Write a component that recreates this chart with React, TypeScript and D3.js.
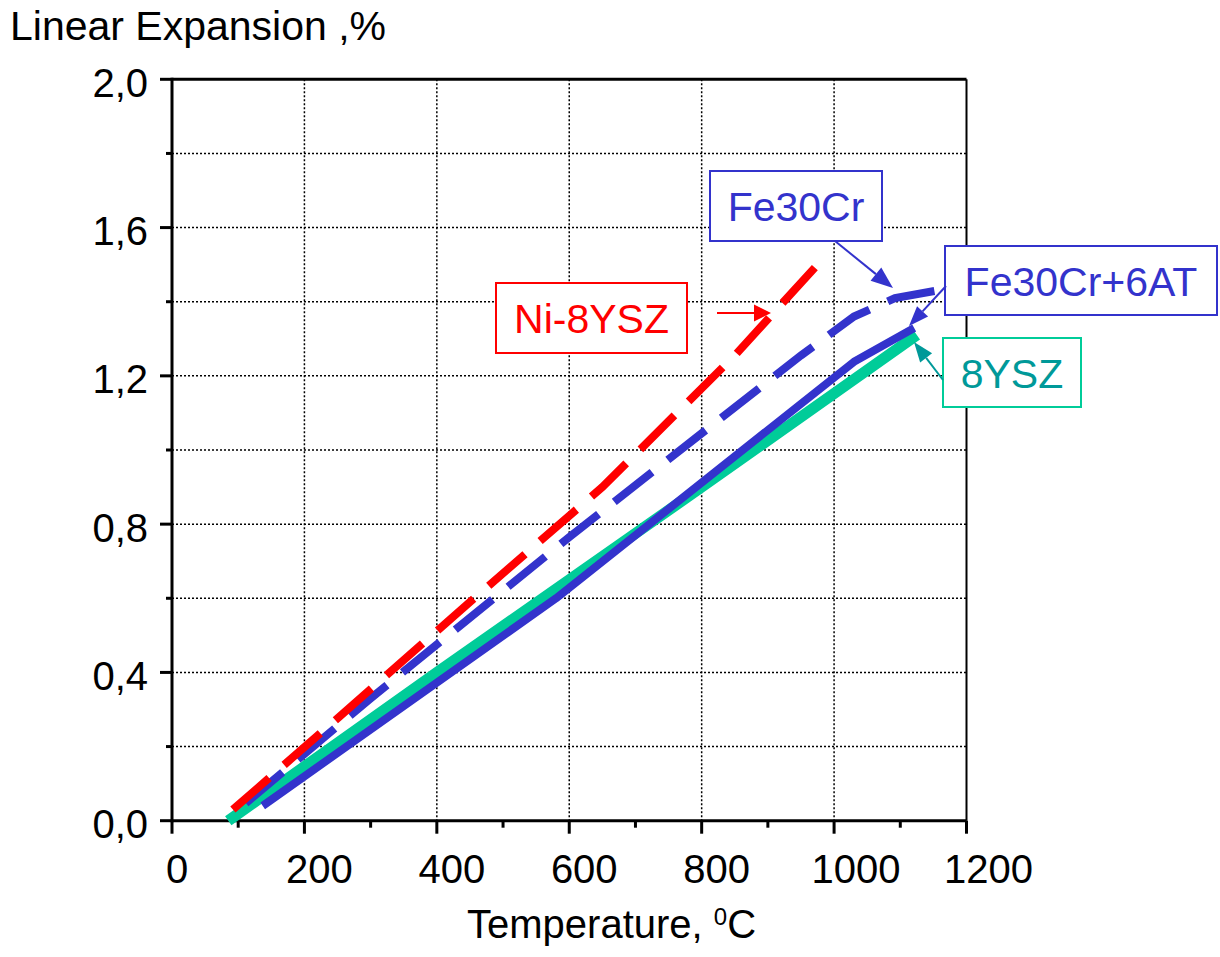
import React from "react";
import * as d3 from "d3";

// Temperature (°C) vs linear expansion (%)
const ysz8: [number, number][] = [[85, 0.0], [400, 0.40], [800, 0.90], [1125, 1.31]];
const fe30cr6at: [number, number][] = [[137, 0.04], [580, 0.60], [1030, 1.238], [1121, 1.329]];
const fe30cr: [number, number][] = [[100, 0.03], [300, 0.33], [600, 0.765], [850, 1.115], [950, 1.255], [1030, 1.36], [1092, 1.41], [1155, 1.43]];
const ni8ysz: [number, number][] = [[92, 0.03], [230, 0.245], [450, 0.59], [650, 0.90], [850, 1.255], [977, 1.504]];

const xMajorTicks = [0, 200, 400, 600, 800, 1000, 1200];
const xMinorTicks = [100, 300, 500, 700, 900, 1100];
const yMajorTicks = [0, 0.4, 0.8, 1.2, 1.6, 2.0];
const yMinorTicks = [0.2, 0.6, 1.0, 1.4, 1.8];
const xGrid = [200, 400, 600, 800, 1000];
const yGrid = [0.2, 0.4, 0.6, 0.8, 1.0, 1.2, 1.4, 1.6, 1.8];

const FONT = "'Liberation Sans', Arial, sans-serif";
const BLUE = "#3333CC";
const RED = "#FF0000";
const GREEN = "#00CC99";
const TEAL = "#009999";

const x = d3.scaleLinear().domain([0, 1200]).range([172, 966.5]);
const y = d3.scaleLinear().domain([0, 2]).range([820.7, 79.3]);
const line = d3.line<[number, number]>().x(d => x(d[0])).y(d => y(d[1]));

function Arrow({ x1, y1, x2, y2, color, len = 20, w = 16, sw = 2 }: any) {
  const ang = Math.atan2(y2 - y1, x2 - x1);
  const bx = x2 - len * Math.cos(ang);
  const by = y2 - len * Math.sin(ang);
  const px = -Math.sin(ang) * w / 2;
  const py = Math.cos(ang) * w / 2;
  return (
    <g>
      <line x1={x1} y1={y1} x2={bx} y2={by} stroke={color} strokeWidth={sw} />
      <polygon points={`${x2},${y2} ${bx + px},${by + py} ${bx - px},${by - py}`} fill={color} />
    </g>
  );
}

function Label({ x0, y0, w, h, text, color, border }: any) {
  return (
    <g>
      <rect x={x0} y={y0} width={w} height={h} fill="white" stroke={border} strokeWidth={2} />
      <text x={x0 + w / 2} y={y0 + h / 2 + 15} textAnchor="middle" fontSize={41} fontFamily={FONT} fill={color}>{text}</text>
    </g>
  );
}

// label shift to the right of the tick, depending on label length
const xLabelShift = (s: string) => (s.length === 1 ? 5 : s.length === 3 ? 15 : 22);

export default function App() {
  return (
    <svg width={1220} height={957} style={{ position: "absolute", left: 0, top: 0, background: "white" }}>
      <rect x={0} y={0} width={1220} height={957} fill="white" />
      {/* grid */}
      {xGrid.map(v => (
        <line key={"gx" + v} x1={x(v)} x2={x(v)} y1={y(2)} y2={y(0)} stroke="black" strokeWidth={1.5} strokeDasharray="2,2" />
      ))}
      {yGrid.map(v => (
        <line key={"gy" + v} x1={x(0)} x2={x(1200)} y1={y(v)} y2={y(v)} stroke="black" strokeWidth={1.5} strokeDasharray="2,2" />
      ))}
      {/* frame */}
      <line x1={x(0)} x2={x(1200)} y1={y(2)} y2={y(2)} stroke="black" strokeWidth={3} />
      <line x1={x(1200)} x2={x(1200)} y1={y(2)} y2={y(0)} stroke="black" strokeWidth={2} />
      <line x1={x(0)} x2={x(1200)} y1={y(0)} y2={y(0)} stroke="black" strokeWidth={3} />
      <line x1={x(0)} x2={x(0)} y1={y(2) - 1.5} y2={y(0) + 1.5} stroke="black" strokeWidth={3} />
      {/* ticks */}
      {xMajorTicks.map(v => (
        <line key={"xt" + v} x1={x(v)} x2={x(v)} y1={y(0)} y2={y(0) + 13} stroke="black" strokeWidth={3} />
      ))}
      {xMinorTicks.map(v => (
        <line key={"xm" + v} x1={x(v)} x2={x(v)} y1={y(0)} y2={y(0) + 7} stroke="black" strokeWidth={3} />
      ))}
      {yMajorTicks.map(v => (
        <line key={"yt" + v} x1={x(0) - 12} x2={x(0)} y1={y(v)} y2={y(v)} stroke="black" strokeWidth={3} />
      ))}
      {yMinorTicks.map(v => (
        <line key={"ym" + v} x1={x(0) - 6} x2={x(0)} y1={y(v)} y2={y(v)} stroke="black" strokeWidth={3} />
      ))}
      {/* tick labels */}
      {xMajorTicks.map(v => (
        <text key={"xl" + v} x={x(v) + xLabelShift(String(v))} y={883} textAnchor="middle" fontSize={40} fontFamily={FONT}>{v}</text>
      ))}
      {yMajorTicks.map(v => (
        <text key={"yl" + v} x={148} y={y(v) + 17.5} textAnchor="end" fontSize={40} fontFamily={FONT}>{v.toFixed(1).replace(".", ",")}</text>
      ))}
      {/* series */}
      <path d={line(ysz8) || ""} fill="none" stroke={GREEN} strokeWidth={11} />
      <path d={line(fe30cr6at) || ""} fill="none" stroke={BLUE} strokeWidth={8} strokeLinejoin="round" />
      <path d={line(fe30cr) || ""} fill="none" stroke={BLUE} strokeWidth={8} strokeDasharray="48,20" strokeDashoffset={-10} />
      <path d={line(ni8ysz) || ""} fill="none" stroke={RED} strokeWidth={8} strokeDasharray="48,20" />
      {/* annotations */}
      <Label x0={710} y0={171} w={172} h={70} text="Fe30Cr" color={BLUE} border={BLUE} />
      <Arrow x1={835} y1={241} x2={893} y2={288} color={BLUE} len={22} w={17} />
      <Label x0={945} y0={246} w={272} h={69} text="Fe30Cr+6AT" color={BLUE} border={BLUE} />
      <Arrow x1={946} y1={286} x2={909} y2={326} color={BLUE} len={20} w={15} />
      <Label x0={943} y0={338} w={138} h={69} text="8YSZ" color={TEAL} border={GREEN} />
      <Arrow x1={943} y1={380} x2={914} y2={342} color={TEAL} len={20} w={15} />
      <Label x0={496} y0={283} w={191} h={70} text="Ni-8YSZ" color={RED} border={RED} />
      <Arrow x1={717} y1={313} x2={771} y2={313} color={RED} len={17} w={17} />
      {/* titles */}
      <text x={10} y={40} fontSize={41} fontFamily={FONT}>Linear Expansion ,%</text>
      <text x={467} y={938} fontSize={40} fontFamily={FONT}>
        Temperature,{" "}
        <tspan fontSize={24} dy={-13}>0</tspan>
        <tspan dy={13}>C</tspan>
      </text>
    </svg>
  );
}
